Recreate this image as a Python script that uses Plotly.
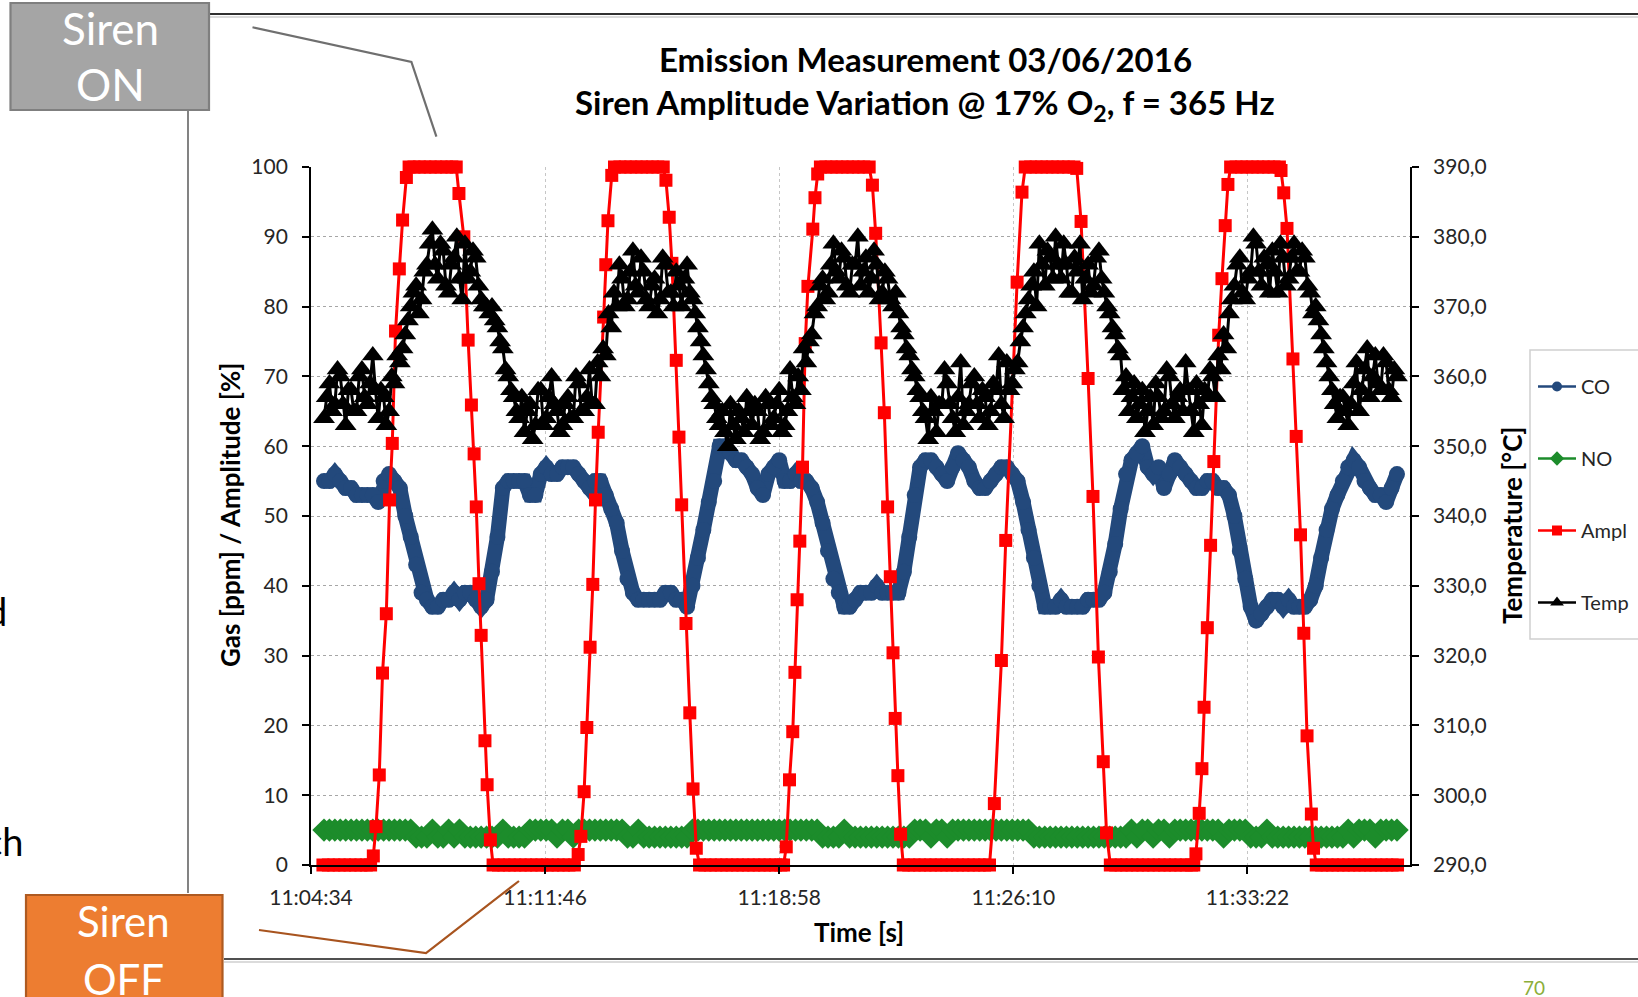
import plotly.graph_objects as go

# ---------------- data ----------------
# time axis: seconds after 11:04:34; CO / NO sampled every 10 s, Temp every 5 s
t_sec = list(range(24, 2005, 10))
temp_t = list(range(24, 2005, 5))

co_ppm = [
    55, 55, 56, 55, 54, 54, 53, 53, 53, 53,
    52, 55, 56, 55, 54, 50, 47, 43, 39, 38,
    37, 37, 38, 38, 39, 38, 39, 39, 38, 37,
    38, 42, 47, 54, 55, 55, 55, 55, 53, 53,
    56, 57, 56, 56, 57, 57, 57, 56, 55, 54,
    55, 55, 53, 51, 49, 45, 41, 39, 38, 38,
    38, 38, 38, 39, 39, 38, 38, 37, 40, 44,
    48, 52, 55, 60, 60, 59, 58, 58, 57, 56,
    54, 53, 56, 57, 58, 55, 55, 56, 55, 55,
    54, 52, 49, 45, 41, 39, 37, 37, 38, 39,
    39, 39, 40, 39, 39, 39, 39, 42, 47, 53,
    57, 58, 58, 57, 56, 55, 57, 59, 58, 57,
    55, 54, 54, 55, 56, 57, 57, 56, 55, 52,
    48, 44, 40, 37, 37, 37, 38, 37, 37, 37,
    37, 38, 38, 38, 39, 42, 46, 51, 56, 58,
    59, 60, 57, 56, 57, 54, 56, 58, 57, 56,
    55, 54, 54, 55, 55, 54, 54, 53, 50, 45,
    41, 37, 35, 36, 37, 38, 38, 37, 38, 37,
    37, 37, 38, 40, 44, 48, 51, 53, 55, 57,
    58, 57, 55, 54, 53, 53, 52, 54, 56,
]

no_ppm = [
    5, 5, 5, 5, 5, 5, 5, 5, 5, 5,
    5, 5, 5, 5, 5, 5, 5, 4, 4, 4,
    5, 4, 4, 5, 4, 5, 4, 4, 4, 4,
    4, 4, 4, 5, 4, 4, 4, 4, 5, 5,
    5, 5, 5, 4, 5, 5, 4, 5, 5, 5,
    5, 5, 5, 5, 5, 5, 4, 4, 5, 4,
    4, 4, 4, 4, 4, 4, 4, 4, 5, 5,
    5, 5, 5, 5, 5, 5, 5, 5, 5, 5,
    5, 5, 5, 5, 5, 5, 5, 5, 5, 5,
    5, 5, 4, 4, 4, 4, 5, 4, 4, 4,
    4, 4, 4, 4, 4, 4, 4, 4, 4, 5,
    5, 5, 4, 5, 5, 4, 5, 5, 5, 5,
    5, 5, 5, 5, 5, 5, 5, 5, 5, 5,
    5, 4, 4, 4, 4, 4, 4, 4, 4, 4,
    4, 4, 4, 4, 4, 4, 4, 4, 4, 5,
    4, 5, 5, 4, 5, 5, 4, 5, 5, 5,
    5, 5, 5, 5, 5, 5, 4, 5, 5, 5,
    5, 4, 4, 4, 5, 4, 4, 4, 4, 4,
    4, 4, 4, 4, 4, 4, 4, 4, 4, 5,
    4, 5, 5, 5, 4, 5, 5, 5, 5,
]

temp_c = [
    354, 357, 359, 355, 356, 361, 360, 356, 353, 358, 358, 355, 355, 360, 361, 357, 356, 359, 363, 358,
    354, 358, 357, 353, 355, 360, 359, 363, 362, 364, 366, 368, 370, 372, 373, 369, 371, 375, 376, 379,
    381, 376, 374, 379, 378, 373, 372, 376, 377, 380, 374, 371, 379, 374, 375, 378, 377, 373, 371, 370,
    370, 369, 370, 368, 367, 365, 364, 361, 360, 358, 357, 355, 354, 357, 352, 355, 356, 351, 353, 358,
    358, 353, 354, 357, 360, 356, 355, 352, 353, 356, 357, 354, 354, 360, 359, 355, 355, 357, 361, 356,
    356, 362, 360, 364, 363, 369, 367, 372, 370, 376, 374, 370, 371, 375, 378, 373, 372, 377, 375, 371,
    370, 373, 374, 369, 371, 377, 376, 372, 372, 370, 375, 373, 370, 374, 376, 372, 371, 369, 367, 365,
    363, 361, 359, 357, 356, 354, 353, 355, 352, 350, 356, 353, 351, 355, 354, 352, 357, 355, 353, 356,
    355, 351, 352, 357, 356, 353, 354, 356, 358, 352, 353, 355, 361, 357, 356, 360, 358, 364, 362, 365,
    366, 369, 370, 373, 374, 371, 372, 376, 379, 375, 374, 378, 377, 373, 372, 376, 376, 380, 373, 375,
    377, 372, 374, 378, 376, 371, 372, 375, 374, 371, 370, 372, 369, 367, 366, 364, 363, 361, 360, 358,
    357, 355, 354, 351, 357, 355, 352, 356, 356, 361, 359, 356, 354, 352, 357, 362, 353, 355, 356, 359,
    360, 356, 354, 358, 357, 353, 355, 359, 358, 363, 356, 354, 362, 358, 359, 361, 362, 365, 367, 369,
    371, 373, 375, 370, 379, 376, 373, 378, 377, 374, 380, 376, 374, 379, 376, 372, 372, 377, 375, 379,
    371, 374, 376, 372, 373, 377, 378, 374, 372, 370, 369, 367, 366, 364, 363, 358, 360, 355, 357, 359,
    354, 356, 358, 352, 355, 357, 353, 359, 357, 354, 355, 361, 360, 356, 354, 357, 358, 355, 362, 358,
    355, 352, 359, 356, 353, 358, 357, 361, 360, 357, 363, 361, 366, 364, 369, 371, 373, 376, 377, 372,
    371, 374, 375, 380, 379, 375, 373, 377, 376, 372, 378, 375, 372, 379, 377, 373, 374, 377, 379, 375,
    375, 378, 377, 373, 372, 369, 370, 368, 366, 364, 362, 360, 358, 356, 354, 357, 357, 355, 353, 356,
    359, 362, 355, 358, 361, 364, 357, 360, 363, 359, 358, 363, 362, 358, 357, 361, 360,
]

# amplitude has its own (irregular) sample times
ampl_t = [
    22, 32, 42, 52, 62, 72, 82, 92, 102, 110,
    115, 120, 126, 132, 139, 145, 150, 156, 163, 169, 176, 181,
    190, 200, 210, 220, 230, 240, 250, 260, 268,
    273, 282, 290, 296, 301, 305, 310, 314, 321, 325, 331, 336,
    346, 356, 366, 376, 386, 396, 406, 416, 426, 436, 446, 456, 466, 476, 486,
    493, 498, 504, 509, 515, 520, 525, 530, 540, 544, 548, 555, 560,
    570, 580, 590, 600, 610, 620, 630, 640, 650,
    655, 661, 666, 674, 679, 684, 692, 699, 705, 711, 717,
    727, 737, 747, 757, 767, 777, 787, 797, 807, 817, 827, 837, 847, 857, 867, 872,
    877, 883, 889, 893, 897, 902, 907, 912, 917, 926, 930, 935, 940,
    950, 960, 970, 980, 990, 1000, 1010, 1020, 1030,
    1036, 1042, 1052, 1058, 1064, 1069, 1074, 1078, 1083, 1088, 1093,
    1103, 1113, 1123, 1133, 1143, 1153, 1163, 1173, 1183, 1193, 1203, 1213, 1223, 1233, 1243, 1252,
    1261, 1274, 1282, 1303, 1312, 1318,
    1328, 1338, 1348, 1358, 1368, 1378, 1388, 1398, 1408, 1413,
    1421, 1434, 1443, 1453, 1462, 1468, 1475,
    1485, 1495, 1505, 1515, 1525, 1535, 1545, 1555, 1565, 1575, 1585, 1595, 1605, 1615, 1625, 1629,
    1633, 1639, 1644, 1648, 1654, 1660, 1666, 1675, 1681, 1687, 1692, 1697,
    1707, 1717, 1727, 1737, 1747, 1757, 1767, 1777, 1787, 1790,
    1795, 1801, 1812, 1818, 1826, 1832, 1838, 1846, 1850, 1855,
    1865, 1875, 1885, 1895, 1905, 1915, 1925, 1935, 1945, 1955, 1965, 1975, 1985, 1995, 2005,
]
ampl_pct = [
    0, 0, 0, 0, 0, 0, 0, 0, 0, 0,
    1.3, 5.5, 12.9, 27.5, 36, 52.3, 60.4, 76.5, 85.4, 92.4, 98.5, 100,
    100, 100, 100, 100, 100, 100, 100, 100, 100,
    96.2, 90, 75.2, 65.9, 58.9, 51.3, 40.3, 32.9, 17.8, 11.5, 3.6, 0,
    0, 0, 0, 0, 0, 0, 0, 0, 0, 0, 0, 0, 0, 0, 0,
    1.5, 4.1, 10.5, 19.7, 31.2, 40.2, 52.3, 62, 78.5, 86, 92.3, 98.8, 100,
    100, 100, 100, 100, 100, 100, 100, 100, 100,
    98.1, 92.8, 86.2, 72.3, 61.3, 51.6, 34.6, 21.8, 10.9, 2.4, 0,
    0, 0, 0, 0, 0, 0, 0, 0, 0, 0, 0, 0, 0, 0, 0, 0,
    2.6, 12.2, 19.1, 27.6, 38, 46.4, 57, 74.7, 82.9, 91.1, 95.6, 99, 100,
    100, 100, 100, 100, 100, 100, 100, 100, 100,
    97.4, 90.5, 74.8, 64.8, 51.3, 41.3, 30.4, 21, 12.8, 4.4, 0,
    0, 0, 0, 0, 0, 0, 0, 0, 0, 0, 0, 0, 0, 0, 0, 0,
    8.8, 29.3, 46.5, 83.5, 96.4, 100,
    100, 100, 100, 100, 100, 100, 100, 100, 100, 99.8,
    92.2, 69.7, 52.8, 29.8, 14.8, 4.6, 0,
    0, 0, 0, 0, 0, 0, 0, 0, 0, 0, 0, 0, 0, 0, 0, 0,
    1.6, 7.4, 13.8, 22.6, 34, 45.8, 57.8, 75.9, 84, 91.6, 97.5, 100,
    100, 100, 100, 100, 100, 100, 100, 100, 100, 99.5,
    96.3, 91.2, 72.5, 61.4, 47.3, 33.2, 18.5, 7.3, 2.4, 0,
    0, 0, 0, 0, 0, 0, 0, 0, 0, 0, 0, 0, 0, 0, 0,
]

x_tick_sec = [0, 432, 864, 1296, 1728]
x_tick_labels = ["11:04:34", "11:11:46", "11:18:58", "11:26:10", "11:33:22"]
y_ticks = [0, 10, 20, 30, 40, 50, 60, 70, 80, 90, 100]
y2_ticks = [290, 300, 310, 320, 330, 340, 350, 360, 370, 380, 390]
y2_tick_labels = ["290,0", "300,0", "310,0", "320,0", "330,0", "340,0",
                  "350,0", "360,0", "370,0", "380,0", "390,0"]
series_names = ["CO", "NO", "Ampl", "Temp"]

# ---------------- styling ----------------
CO_C = "#23497c"
NO_C = "#1c8c2b"
AM_C = "#ff0000"
TE_C = "#000000"
FONT = "Lato, 'Open Sans', sans-serif"

W, H = 1638, 997
L, R, T, B = 311, 1410, 167, 865   # plot area in pixels


def px(x):
    return (x - L) / (R - L)


def py(y):
    return (B - y) / (B - T)


fig = go.Figure()

fig.add_trace(go.Scatter(
    x=t_sec, y=co_ppm, mode="lines+markers", showlegend=False,
    line=dict(color=CO_C, width=15),
    marker=dict(symbol="circle", size=16, color=CO_C)))
fig.add_trace(go.Scatter(
    x=t_sec, y=no_ppm, mode="lines+markers", showlegend=False, cliponaxis=False,
    line=dict(color=NO_C, width=5),
    marker=dict(symbol="diamond", size=18, color=NO_C)))
fig.add_trace(go.Scatter(
    x=ampl_t, y=ampl_pct, mode="lines+markers", showlegend=False, cliponaxis=False,
    line=dict(color=AM_C, width=3),
    marker=dict(symbol="square", size=13, color=AM_C)))
fig.add_trace(go.Scatter(
    x=temp_t, y=temp_c, yaxis="y2", mode="lines+markers", showlegend=False,
    line=dict(color=TE_C, width=3),
    marker=dict(symbol="triangle-up", size=19, color=TE_C)))

# legend entries
legend_style = [(CO_C, "circle", 10), (NO_C, "diamond", 11), (AM_C, "square", 10), (TE_C, "triangle-up", 12)]
for i, (name, (c, sym, sz)) in enumerate(zip(series_names, legend_style)):
    fig.add_trace(go.Scatter(
        x=[None], y=[None], mode="lines+markers", name=name, legendgroup=name,
        legendrank=i + 1,
        line=dict(color=c, width=2.5), marker=dict(symbol=sym, size=sz, color=c)))

axis_common = dict(showline=True, linecolor="black", linewidth=1.8,
                   ticks="outside", ticklen=7, tickwidth=1.5, tickcolor="black",
                   zeroline=False, tickfont=dict(family=FONT, size=21, color="#262626"))

fig.update_layout(
    width=W, height=H, autosize=False,
    margin=dict(l=L, r=W - R, t=T, b=H - B, autoexpand=False),
    paper_bgcolor="white", plot_bgcolor="white",
    font=dict(family=FONT, color="#262626"),
    xaxis=dict(range=[0, 2028], tickmode="array", tickvals=x_tick_sec, ticktext=x_tick_labels,
               showgrid=True, gridcolor="#c6c6c6", griddash="dot", gridwidth=1.2,
               ticklabelstandoff=6, **axis_common),
    yaxis=dict(range=[0, 100], tickmode="array", tickvals=y_ticks,
               showgrid=True, gridcolor="#a6a6a6", griddash="dot", gridwidth=1.4,
               ticklabelstandoff=10, **axis_common),
    yaxis2=dict(range=[290, 390], overlaying="y", side="right", tickmode="array",
                tickvals=y2_ticks, ticktext=y2_tick_labels, showgrid=False,
                ticklabelstandoff=10, **axis_common),
    showlegend=True,
    legend=dict(x=px(1533), y=py(367), xanchor="left", yanchor="top",
                bgcolor="rgba(0,0,0,0)", borderwidth=0, tracegroupgap=43,
                traceorder="grouped", itemwidth=38,
                font=dict(family=FONT, size=20, color="#262626")),
)

shapes = []
# slide frame lines
shapes.append(dict(type="line", xref="paper", yref="paper", x0=px(209), x1=px(1645), y0=py(14), y1=py(14),
                   line=dict(color="#303030", width=1.8)))
shapes.append(dict(type="line", xref="paper", yref="paper", x0=px(209), x1=px(1645), y0=py(17), y1=py(17),
                   line=dict(color="#cfcfcf", width=1.5)))
shapes.append(dict(type="line", xref="paper", yref="paper", x0=px(188), x1=px(188), y0=py(110), y1=py(893),
                   line=dict(color="#404040", width=1.3)))
shapes.append(dict(type="line", xref="paper", yref="paper", x0=px(224), x1=px(1645), y0=py(959), y1=py(959),
                   line=dict(color="#505050", width=1.8)))
shapes.append(dict(type="line", xref="paper", yref="paper", x0=px(224), x1=px(1645), y0=py(962), y1=py(962),
                   line=dict(color="#cfcfcf", width=1.5)))
# legend box
shapes.append(dict(type="rect", xref="paper", yref="paper", x0=px(1530), x1=px(1660), y0=py(350), y1=py(639),
                   line=dict(color="#d0d0d0", width=1.5), fillcolor="white", layer="below"))
# Siren ON box and connector
shapes.append(dict(type="rect", xref="paper", yref="paper", x0=px(10.5), x1=px(209), y0=py(3), y1=py(110),
                   line=dict(color="#7f7f7f", width=2.2), fillcolor="#a5a5a5"))
shapes.append(dict(type="path", xref="paper", yref="paper",
                   path=f"M {px(252.5)},{py(27.3)} L {px(411.4)},{py(62)} L {px(436.4)},{py(136.7)}",
                   line=dict(color="#6f6f6f", width=2.2)))
# Siren OFF box and connector
shapes.append(dict(type="rect", xref="paper", yref="paper", x0=px(26), x1=px(222.5), y0=py(895), y1=py(1005),
                   line=dict(color="#ae5a21", width=2.2), fillcolor="#ed7d31"))
shapes.append(dict(type="path", xref="paper", yref="paper",
                   path=f"M {px(259)},{py(930)} L {px(426)},{py(953)} L {px(519)},{py(881)}",
                   line=dict(color="#a8541f", width=2.2)))

ann = []


def add_text(x, y, text, size, color="black", bold=False, angle=0, xanchor="center"):
    ann.append(dict(xref="paper", yref="paper", x=px(x), y=py(y), text=f"<b>{text}</b>" if bold else text,
                    showarrow=False, xanchor=xanchor, yanchor="middle", textangle=angle,
                    font=dict(family=FONT, size=size, color=color)))


add_text(925, 59, "Emission Measurement 03/06/2016", 33, bold=True)
add_text(925, 104, "Siren Amplitude Variation @ 17% O<sub>2</sub>, f = 365 Hz", 33, bold=True)
add_text(859, 932, "Time [s]", 26, bold=True)
add_text(230, 515, "Gas [ppm] / Amplitude [%]", 26, bold=True, angle=-90)
add_text(1512, 526, "Temperature [°C]", 26, bold=True, angle=-90)
add_text(110, 28, "Siren", 44, color="white")
add_text(110, 84, "ON", 44, color="white")
add_text(123, 921, "Siren", 42, color="white")
add_text(123, 979, "OFF", 42, color="white")
add_text(9, 611, "and", 38, color="black", xanchor="right")
add_text(26, 841, "which", 38, color="black", xanchor="right")
add_text(1534, 987, "70", 19, color="#8cae3a")

fig.update_layout(shapes=shapes, annotations=ann)

fig.write_html("out.html", config={"displayModeBar": False},
               post_script="document.body.style.margin='0';document.body.style.overflow='hidden';")
